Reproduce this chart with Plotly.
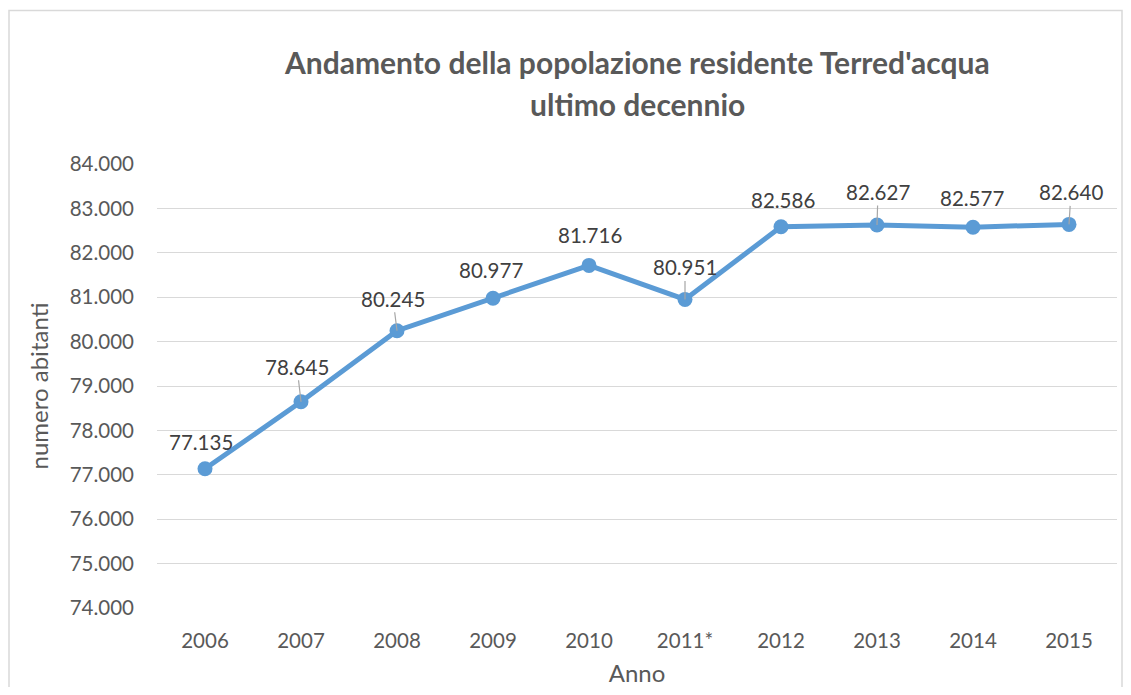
import plotly.graph_objects as go

anni = ["2006", "2007", "2008", "2009", "2010", "2011*", "2012", "2013", "2014", "2015"]
abitanti = [77135, 78645, 80245, 80977, 81716, 80951, 82586, 82627, 82577, 82640]
y_ticks = [74000, 75000, 76000, 77000, 78000, 79000, 80000, 81000, 82000, 83000, 84000]

# label offsets (pixels) and leader-line visibility
label_dx = [-4, -4, -4, -2, 1, 0, 2, 1, -1, 2]
label_dy = [-27, -35, -32, -28, -30, -32, -27, -33, -29, -32]
leader = [False, True, True, False, False, True, False, True, False, True]

FONT = "Lato"
blue = "#5B9BD5"

# the page body adds an 8px margin on every side; compensate
OFF = 8
W, H = 1131 - 2 * OFF, 695 - 2 * OFF
ML, MT = 157 - OFF, 164 - OFF
MR = W - (1117 - OFF)
MB = H - (608 - OFF)
PW, PH = 960, 444

fig = go.Figure()
fig.add_trace(go.Scatter(
    x=anni, y=abitanti, mode="lines+markers",
    line=dict(color=blue, width=5),
    marker=dict(color=blue, size=15),
    hoverinfo="x+y", showlegend=False,
))

def fmt(v):
    return f"{v:,}".replace(",", ".")

for i, (v, dx, dy, ld) in enumerate(zip(abitanti, label_dx, label_dy, leader)):
    fig.add_annotation(
        x=i, y=v, text=fmt(v), showarrow=True, ax=dx, ay=dy,
        axref="pixel", ayref="pixel", arrowhead=0, arrowwidth=1.2,
        arrowcolor="#A6A6A6" if ld else "rgba(0,0,0,0)", standoff=0,
        font=dict(family=FONT, size=20.5, color="#404040"),
    )

fig.add_annotation(
    x=0.5, y=1.0 + (164 - 62) / PH, xref="paper", yref="paper",
    text="<b>Andamento della popolazione residente Terred'acqua</b>",
    showarrow=False, font=dict(family=FONT, size=30, color="#595959"),
    xanchor="center", yanchor="middle",
)
fig.add_annotation(
    x=0.5, y=1.0 + (164 - 104) / PH, xref="paper", yref="paper",
    text="<b>ultimo decennio</b>",
    showarrow=False, font=dict(family=FONT, size=30, color="#595959"),
    xanchor="center", yanchor="middle",
)

# chart border
fig.add_shape(
    type="rect", xref="paper", yref="paper",
    x0=(9 - 157) / PW, x1=(1122 - 157) / PW,
    y0=(608 - 720) / PH, y1=(608 - 10.5) / PH,
    line=dict(color="#D9D9D9", width=1.5), fillcolor="rgba(0,0,0,0)",
    layer="below",
)

fig.update_layout(
    width=W, height=H,
    margin=dict(l=ML, r=MR, t=MT, b=MB, autoexpand=False),
    paper_bgcolor="white", plot_bgcolor="white",
    separators=",.",
    font=dict(family=FONT, size=20.5, color="#595959"),
    xaxis=dict(
        type="category", showgrid=False, zeroline=False, showline=False,
        ticks="", tickfont=dict(size=20.5, color="#595959"),
        ticklabelstandoff=18, automargin=False,
        title=dict(text="Anno", font=dict(size=24, color="#595959"), standoff=30),
        range=[-0.5, 9.5],
    ),
    yaxis=dict(
        range=[74000, 84000], tickvals=y_ticks, tickformat=",.0f",
        showgrid=True, gridcolor="#D9D9D9", gridwidth=1.3,
        zeroline=False, showline=False, ticks="",
        tickfont=dict(size=20.5, color="#595959"),
        ticklabelstandoff=22, automargin=False,
        title=dict(text="numero abitanti", font=dict(size=24, color="#595959"), standoff=14),
    ),
)

fig.write_html("out.html")
